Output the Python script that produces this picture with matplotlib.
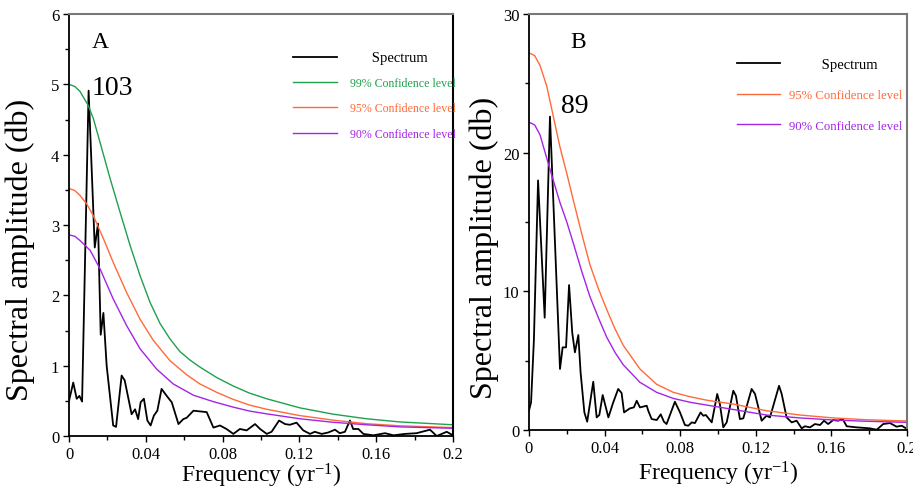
import matplotlib
matplotlib.use("Agg")
import matplotlib.pyplot as plt
from matplotlib.ticker import MultipleLocator, FixedLocator

plt.rcParams['font.family'] = ['Liberation Serif', 'DejaVu Serif']
plt.rcParams['mathtext.fontset'] = 'custom'
plt.rcParams['mathtext.rm'] = 'Liberation Serif'
plt.rcParams['mathtext.it'] = 'Liberation Serif:italic'
plt.rcParams['mathtext.bf'] = 'Liberation Serif:bold'

# ---------------- Panel A data ----------------
freq_a = [0.0, 0.0022, 0.004, 0.0054, 0.0068, 0.0102, 0.0134, 0.0151, 0.0165, 0.0179,
          0.0196, 0.023, 0.0245, 0.0274, 0.029, 0.0326, 0.0344, 0.036, 0.0373, 0.039,
          0.0408, 0.0425, 0.0442, 0.046, 0.0482, 0.0509, 0.0535, 0.057, 0.0595, 0.0613,
          0.0648, 0.0682, 0.0717, 0.0752, 0.0786, 0.082, 0.0856, 0.089, 0.0925, 0.0969,
          0.0995, 0.103, 0.1055, 0.1094, 0.1125, 0.115, 0.1185, 0.122, 0.1255, 0.128,
          0.1316, 0.135, 0.1385, 0.141, 0.1437, 0.1463, 0.148, 0.1507, 0.1533, 0.1585,
          0.1646, 0.169, 0.175, 0.181, 0.188, 0.1915, 0.1967, 0.2]
spec_a = [0.50, 0.76, 0.53, 0.57, 0.49, 4.91, 2.68, 3.02, 1.44, 1.75,
          1.0, 0.15, 0.13, 0.86, 0.79, 0.31, 0.38, 0.24, 0.48, 0.53,
          0.22, 0.15, 0.29, 0.36, 0.67, 0.57, 0.48, 0.17, 0.24, 0.26,
          0.36, 0.35, 0.34, 0.12, 0.15, 0.10, 0.03, 0.10, 0.08, 0.17,
          0.10, 0.03, 0.06, 0.22, 0.17, 0.16, 0.19, 0.08, 0.03, 0.06,
          0.03, 0.05, 0.09, 0.04, 0.06, 0.22, 0.10, 0.10, 0.03, 0.01,
          0.04, 0.01, 0.03, 0.04, 0.09, 0.0, 0.06, 0.01]

c99_a_f = [0, 0.003, 0.0057, 0.01, 0.0127, 0.0161, 0.0214, 0.0266, 0.0318, 0.037, 0.0422,
           0.0474, 0.0526, 0.0578, 0.063, 0.0682, 0.077, 0.0856, 0.094, 0.1029, 0.1203,
           0.1377, 0.155, 0.1724, 0.2]
c99_a = [5.0, 4.97, 4.90, 4.70, 4.51, 4.18, 3.66, 3.18, 2.71, 2.28, 1.90,
         1.60, 1.38, 1.20, 1.08, 0.98, 0.83, 0.71, 0.61, 0.53, 0.40,
         0.31, 0.245, 0.20, 0.16]

c95_a_f = [0, 0.003, 0.0057, 0.0092, 0.0127, 0.018, 0.023, 0.030, 0.037, 0.0439, 0.0526,
           0.0613, 0.0682, 0.077, 0.0856, 0.094, 0.103, 0.1203, 0.1377, 0.155, 0.1724, 0.2]
c95_a = [3.52, 3.49, 3.42, 3.30, 3.13, 2.80, 2.47, 2.04, 1.66, 1.36, 1.07,
         0.87, 0.74, 0.62, 0.52, 0.44, 0.38, 0.29, 0.225, 0.175, 0.145, 0.12]

c90_a_f = [0, 0.003, 0.0057, 0.011, 0.0161, 0.023, 0.030, 0.037, 0.0457, 0.0543, 0.0648,
           0.075, 0.0856, 0.094, 0.103, 0.1203, 0.1377, 0.155, 0.1724, 0.2]
c90_a = [2.86, 2.84, 2.78, 2.64, 2.38, 1.95, 1.57, 1.24, 0.95, 0.74, 0.58,
         0.49, 0.41, 0.355, 0.315, 0.245, 0.195, 0.16, 0.13, 0.11]

# ---------------- Panel B data ----------------
freq_b = [0, 0.0011, 0.0026, 0.0048, 0.0083, 0.0111, 0.0164, 0.0178, 0.0196, 0.0212,
          0.0229, 0.0243, 0.0261, 0.0273, 0.0293, 0.0308, 0.034, 0.0358, 0.0372, 0.039,
          0.042, 0.0446, 0.0472, 0.049, 0.0503, 0.0534, 0.0555, 0.057, 0.0587, 0.0623,
          0.0631, 0.0649, 0.0676, 0.0697, 0.0714, 0.0728, 0.0772, 0.0799, 0.0825, 0.0843,
          0.0861, 0.0878, 0.0908, 0.0922, 0.0936, 0.0967, 0.0996, 0.101, 0.1028, 0.1046,
          0.1081, 0.1095, 0.1116, 0.1134, 0.1178, 0.1196, 0.1231, 0.1257, 0.1275, 0.1323,
          0.1337, 0.1363, 0.139, 0.1416, 0.1443, 0.146, 0.1487, 0.1513, 0.154, 0.1561,
          0.1583, 0.161, 0.1636, 0.166, 0.1681, 0.1734, 0.1804, 0.184, 0.1874, 0.191,
          0.1945, 0.1972, 0.1995]
spec_b = [1.4, 2.0, 6.5, 18.0, 8.1, 22.6, 4.4, 5.96, 5.96, 10.45,
          7.0, 5.6, 6.85, 4.16, 1.27, 0.6, 3.48, 0.91, 1.08, 2.52,
          0.91, 2.0, 2.96, 2.67, 1.27, 1.56, 1.63, 2.11, 1.63, 1.75,
          1.39, 0.79, 0.72, 1.13, 0.6, 0.43, 2.04, 1.27, 0.36, 0.31,
          0.55, 0.5, 1.27, 1.03, 1.08, 0.55, 2.6, 1.87, 0.19, 0.55,
          2.83, 2.47, 0.79, 0.84, 2.96, 2.6, 0.67, 1.03, 0.91, 3.19,
          2.6, 0.91, 0.55, 0.67, 0.12, 0.27, 0.19, 0.43, 0.36, 0.67,
          0.43, 0.72, 0.67, 0.79, 0.27, 0.19, 0.12, 0.02, 0.43, 0.5,
          0.24, 0.31, 0.12]

c95_b_f = [0, 0.003, 0.0058, 0.0094, 0.0129, 0.0164, 0.02, 0.0234, 0.028, 0.0323, 0.0367,
           0.0411, 0.0455, 0.0499, 0.0587, 0.0675, 0.0763, 0.0852, 0.094, 0.1081, 0.1257,
           0.1434, 0.161, 0.1786, 0.2]
c95_b = [27.2, 27.0, 26.3, 24.8, 22.6, 20.4, 18.5, 16.6, 14.1, 11.9, 10.2,
         8.7, 7.3, 6.1, 4.4, 3.3, 2.72, 2.4, 2.15, 1.87, 1.39,
         1.08, 0.87, 0.74, 0.65]

c90_b_f = [0, 0.003, 0.0058, 0.0111, 0.0164, 0.02, 0.0234, 0.028, 0.0323, 0.0367, 0.0411,
           0.0455, 0.0499, 0.0587, 0.0675, 0.0763, 0.0852, 0.094, 0.1081, 0.1257, 0.1434,
           0.161, 0.1786, 0.2]
c90_b = [22.2, 22.0, 21.3, 18.8, 16.4, 15.0, 13.5, 11.4, 9.6, 8.1, 6.7,
         5.6, 4.7, 3.44, 2.72, 2.28, 2.0, 1.80, 1.48, 1.08, 0.87,
         0.72, 0.63, 0.55]

x_ticks = [0, 0.04, 0.08, 0.12, 0.16, 0.2]
x_ticklabels = ['0', '0.04', '0.08', '0.12', '0.16', '0.2']

GREEN = '#1fa04e'
ORANGE = '#ff6a3a'
PURPLE = '#a424e6'

fig = plt.figure(figsize=(9.13, 4.89), dpi=100)
axA = fig.add_axes([0.0756, 0.1063, 0.4206, 0.8630])
axB = fig.add_axes([0.5794, 0.1186, 0.4140, 0.8507])


def style(ax, ymax, ymajor, yminor, xlab_y, ylab_xy):
    ax.set_xlim(0, 0.2)
    ax.set_ylim(0, ymax)
    ax.xaxis.set_major_locator(FixedLocator(x_ticks))
    ax.set_xticklabels(x_ticklabels)
    ax.xaxis.set_minor_locator(MultipleLocator(0.02))
    ax.yaxis.set_major_locator(MultipleLocator(ymajor))
    ax.yaxis.set_minor_locator(MultipleLocator(yminor))
    ax.tick_params(which='major', direction='out', length=4, width=1.0, labelsize=12, pad=3)
    ax.tick_params(which='minor', direction='out', length=3, width=1.0)
    for s in ['left', 'bottom']:
        ax.spines[s].set_linewidth(1.3)
        ax.spines[s].set_color('black')
    ax.spines['top'].set_linewidth(1.5)
    ax.spines['top'].set_color('#777777')
    ax.spines['right'].set_linewidth(1.5)
    ax.set_xlabel('Frequency (yr$^{-1}$)', fontsize=17)
    ax.xaxis.set_label_coords(0.5, xlab_y)
    ax.set_ylabel('Spectral amplitude (db)', fontsize=23, va='center')
    ax.yaxis.set_label_coords(*ylab_xy)


# Panel A
axA.plot(freq_a, spec_a, color='black', lw=1.3, label='      Spectrum')
axA.plot(c99_a_f, c99_a, color=GREEN, lw=1.0, label='99% Confidence level')
axA.plot(c95_a_f, c95_a, color=ORANGE, lw=1.0, label='95% Confidence level')
axA.plot(c90_a_f, c90_a, color=PURPLE, lw=1.0, label='90% Confidence level')
style(axA, 6, 1, 0.5, -0.058, (-0.128, 0.443))
axA.spines['right'].set_color('black')
axA.text(0.081, 0.935, 'A', transform=axA.transAxes, fontsize=17, ha='center', va='center')
axA.text(0.0118, 4.95, '103', fontsize=20, ha='left', va='center')
legA = axA.legend(loc='upper left', bbox_to_anchor=(0.583, 0.913), frameon=False,
                  fontsize=8.6, handlelength=3.7, handletextpad=1.1, labelspacing=1.12,
                  borderpad=0, borderaxespad=0, labelcolor='linecolor')
legA.get_texts()[0].set_fontsize(10.5)

# Panel B
axB.plot(freq_b, spec_b, color='black', lw=1.3, label='         Spectrum')
axB.plot(c95_b_f, c95_b, color=ORANGE, lw=1.0, label='95% Confidence level')
axB.plot(c90_b_f, c90_b, color=PURPLE, lw=1.0, label='90% Confidence level')
style(axB, 30, 10, 5, -0.07, (-0.119, 0.44))
axB.spines['right'].set_color('#777777')
axB.text(0.129, 0.935, 'B', transform=axB.transAxes, fontsize=17, ha='center', va='center')
axB.text(0.0172, 23.4, '89', fontsize=20, ha='left', va='center')
legB = axB.legend(loc='upper left', bbox_to_anchor=(0.55, 0.895), frameon=False,
                  fontsize=9.2, handlelength=3.4, handletextpad=0.7, labelspacing=1.45,
                  borderpad=0, borderaxespad=0, labelcolor='linecolor')
legB.get_texts()[0].set_fontsize(10.5)

fig.savefig('out.png', dpi=100)
